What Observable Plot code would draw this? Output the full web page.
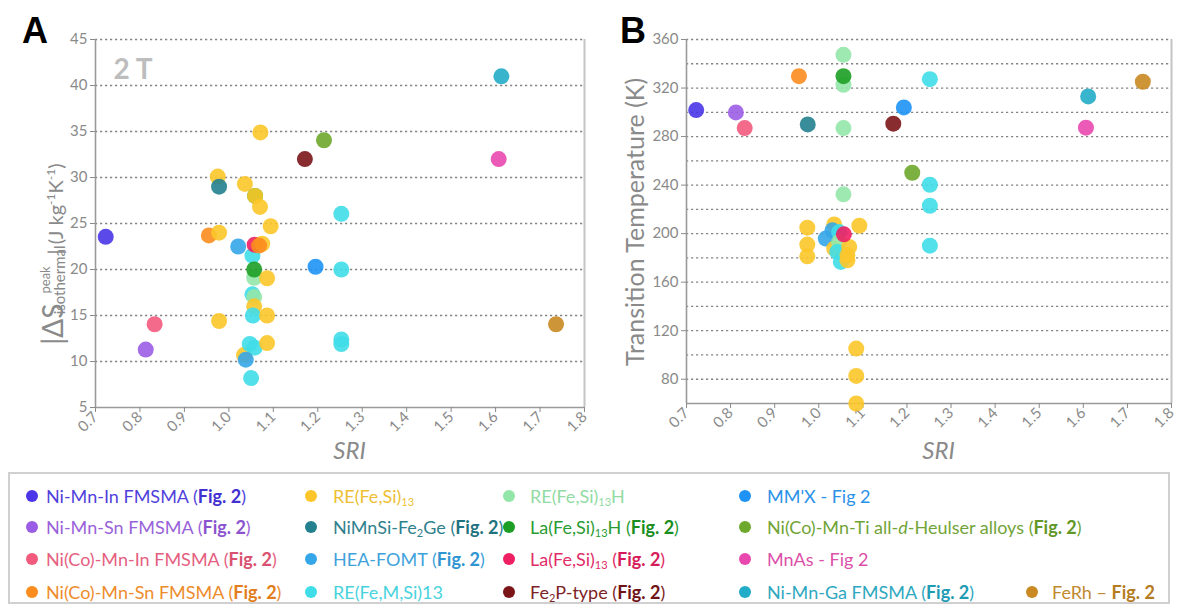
<!DOCTYPE html>
<html><head><meta charset="utf-8">
<script src="https://cdn.jsdelivr.net/npm/d3@7"></script>
<script src="https://cdn.jsdelivr.net/npm/@observablehq/plot@0.6"></script>
<style>
html,body{margin:0;padding:0;background:#fff;}
#root{position:relative;width:1177px;height:609px;overflow:hidden;font-family:Lato,"Open Sans",sans-serif;}
.panel{position:absolute;top:0;}
.letter{position:absolute;font-family:"Liberation Sans",Arial,sans-serif;font-weight:bold;font-size:36px;color:#000;line-height:1;}
#legend{position:absolute;left:8px;top:472px;width:1162px;height:132px;border:2px solid #d0d0d0;box-sizing:border-box;}
.item{position:absolute;font-size:18px;white-space:nowrap;line-height:20px;transform:translateY(-50%);}
.dot{position:absolute;width:12px;height:12px;border-radius:50%;transform:translate(-50%,-50%);}
sub{font-size:11px;line-height:0;vertical-align:-3px;}
</style></head>
<body><div id="root"></div>
<script>
// ---- series ----
const seriesKeys = ["NiMnIn","NiMnSn","NiCoMnIn","NiCoMnSn","REFeSi","NiMnSiFe2Ge","HEA","REFeMSi","REFeSiH","LaFeSiH","LaFeSi","Fe2P","MMX","NiCoMnTi","MnAs","NiMnGa","FeRh"];
const seriesColors = ["#4a35e8","#9b5de5","#f25a7e","#fb8c1e","#fcc62a","#23808e","#35a6e8","#3fdde8","#94e6a8","#1d9e25","#ee1f63","#7b1518","#1e93f5","#6ea82c","#e848ae","#22acc8","#c98a22"];
const legendNames = ["Ni-Mn-In FMSMA","Ni-Mn-Sn FMSMA","Ni(Co)-Mn-In FMSMA","Ni(Co)-Mn-Sn FMSMA","RE(Fe,Si)_13","NiMnSi-Fe_2Ge","HEA-FOMT","RE(Fe,M,Si)13","RE(Fe,Si)_13H","La(Fe,Si)_13H","La(Fe,Si)_13","Fe_2P-type","MM'X","Ni(Co)-Mn-Ti all-*d*-Heulser alloys","MnAs","Ni-Mn-Ga FMSMA","FeRh"];
const legendNotes = ["(Fig. 2)","(Fig. 2)","(Fig. 2)","(Fig. 2)","","(Fig. 2)","(Fig. 2)","","","(Fig. 2)","(Fig. 2)","(Fig. 2)","- Fig 2","(Fig. 2)","- Fig 2","(Fig. 2)","– Fig. 2"];

// ---- axes ----
const xTicks = [0.7,0.8,0.9,1.0,1.1,1.2,1.3,1.4,1.5,1.6,1.7,1.8];
const yTicksA = [5,10,15,20,25,30,35,40,45];
const yGridA = [10,15,20,25,30,35,40,45];
const yTicksB = [80,120,160,200,240,280,320,360];
const yGridB = [80,100,120,140,160,180,200,220,240,260,280,300,320,340,360];

// ---- panel A: |ΔS| peak isothermal vs SRI ----
const aSeries = ["NiMnIn","NiMnSn","NiCoMnIn","NiCoMnSn","REFeSi","REFeSi","NiMnSiFe2Ge","REFeSi","LaFeSiH","REFeSi","REFeSi","REFeSi","REFeSi",
 "HEA","REFeMSi","LaFeSi","REFeSi","NiCoMnSn","REFeSiH","LaFeSiH","REFeSi","REFeMSi","REFeSiH","REFeSi","REFeMSi","REFeSi","REFeSi",
 "REFeSi","REFeMSi","REFeMSi","REFeSi","HEA","REFeMSi","Fe2P","NiCoMnTi","NiMnGa","MnAs","REFeMSi","MMX","REFeMSi","FeRh","REFeMSi","REFeMSi"];
const aSRI = [0.723,0.813,0.833,0.955,0.978,0.975,0.978,1.036,1.059,1.059,1.070,1.071,1.094,
 1.021,1.053,1.058,1.075,1.068,1.057,1.057,1.086,1.053,1.057,1.057,1.054,1.086,0.978,
 1.034,1.047,1.058,1.086,1.038,1.050,1.171,1.214,1.613,1.607,1.253,1.195,1.253,1.736,1.253,1.253];
const aDS = [23.55,11.3,14.05,23.7,24.0,30.1,29.0,29.3,28.0,28.0,26.8,34.9,24.7,
 22.5,21.5,22.7,22.8,22.6,19.1,20.0,19.05,17.3,17.0,16.0,15.0,15.0,14.4,
 10.7,11.9,11.5,12.0,10.2,8.2,32.0,34.05,41.0,32.0,26.05,20.3,20.0,14.05,12.4,11.9];

// ---- panel B: transition temperature vs SRI ----
const bSeries = ["NiMnIn","NiMnSn","NiCoMnIn","NiCoMnSn","NiMnSiFe2Ge","REFeSiH","REFeSiH","LaFeSiH","REFeSiH","REFeSiH",
 "Fe2P","MMX","REFeMSi","NiCoMnTi","REFeMSi","REFeMSi","REFeMSi","NiMnGa","MnAs","FeRh",
 "REFeSi","REFeSi","REFeSi","REFeSi","REFeSi","REFeSi","REFeSi","REFeSi",
 "HEA","HEA","REFeMSi","REFeSi","REFeSiH","REFeMSi","REFeMSi","REFeSi","REFeSi","REFeSi","LaFeSi"];
const bSRI = [0.722,0.812,0.832,0.955,0.975,1.056,1.056,1.056,1.056,1.056,
 1.169,1.193,1.252,1.212,1.252,1.252,1.252,1.611,1.606,1.735,
 0.974,0.974,0.974,1.085,1.085,1.085,1.092,1.035,
 1.016,1.031,1.046,1.035,1.046,1.042,1.050,1.069,1.065,1.065,1.057];
const bT = [301.8,299.9,287.0,329.8,290.0,347.4,322.7,329.8,287.0,232.4,
 290.6,304.0,327.3,250.2,240.3,223.0,190.1,313.1,287.3,325.2,
 204.9,191.0,181.3,105.3,82.7,60.0,206.6,207.6,
 195.9,202.7,201.3,187.6,193.0,184.9,176.7,189.0,182.1,178.0,199.4];

const dataA = aSeries.map((s,i)=>({series:s, sri:aSRI[i], v:aDS[i]}));
const dataB = bSeries.map((s,i)=>({series:s, sri:bSRI[i], v:bT[i]}));

const GRAY = "#8a8a8a";
function panel({data, yDomain, yTicks, yGrid, width, marginLeft, marginRight, marginBottom, extra}) {
  return Plot.plot({
    width, height: 465, marginLeft, marginRight, marginTop: 39, marginBottom,
    style: {fontFamily: "Lato, sans-serif", color: GRAY, background: "transparent", overflow: "visible"},
    x: {domain: [0.7, 1.8]},
    y: {domain: yDomain},
    color: {domain: seriesKeys, range: seriesColors},
    marks: [
      Plot.ruleY(yGrid, {stroke: "#707070", strokeOpacity: 0.85, strokeWidth: 1.3, strokeDasharray: "2.2,2.8"}),
      Plot.ruleX([1.8], {stroke: "#c4c4c4", strokeWidth: 2}),
      Plot.ruleX([0.7], {stroke: "#9a9a9a", strokeWidth: 1.6}),
      Plot.ruleY([yDomain[0]], {stroke: "#9a9a9a", strokeWidth: 1.6}),
      Plot.axisY({ticks: yTicks, tickSize: 5, tickPadding: 3, fontSize: 15, label: null}),
      Plot.axisX({ticks: xTicks, tickSize: 5, tickPadding: 2, tickRotate: -45, fontSize: 15, tickFormat: d => d.toFixed(1), label: null}),
      Plot.dot(data, {x: "sri", y: "v", fill: "series", r: 8, fillOpacity: 0.9}),
      ...(extra || [])
    ]
  });
}

const root = document.getElementById("root");

const svgA = panel({data: dataA, yDomain: [5,45], yTicks: yTicksA, yGrid: yGridA, width: 590, marginLeft: 95, marginRight: 6, marginBottom: 58,
  extra: [Plot.text(["2 T"], {text: d => d, frameAnchor: "top-left", dx: 18, dy: 20, fontSize: 28, fontWeight: "bold", fill: "#bdbdbd", textAnchor: "start"})]});
const divA = document.createElement("div"); divA.className = "panel"; divA.style.left = "0px"; divA.appendChild(svgA); root.appendChild(divA);

const svgB = panel({data: dataB, yDomain: [60,360], yTicks: yTicksB, yGrid: yGridB, width: 587, marginLeft: 96, marginRight: 6, marginBottom: 62});
const divB = document.createElement("div"); divB.className = "panel"; divB.style.left = "590px"; divB.appendChild(svgB); root.appendChild(divB);

// x labels
[[svgA,95,584],[svgB,96,581]].forEach(([svg,l,r]) => {
  d3.select(svg).append("text").attr("x", (l+r)/2 + 10).attr("y", 459).attr("text-anchor","middle")
    .attr("font-size", 24).attr("font-style","italic").attr("fill", GRAY).attr("font-family","Lato, sans-serif").text("SRI");
});

// y label A (stacked peak / isothermal)
(function(){
  const g = d3.select(svgA).append("g").attr("fill", GRAY).attr("font-family","Lato, sans-serif");
  const t1 = g.append("text").attr("font-size", 28).text("|ΔS");
  const w1 = t1.node().getComputedTextLength();
  const p = g.append("text").attr("x", w1 + 3).attr("y", -13).attr("font-size", 13).text("peak");
  const iso = g.append("text").attr("x", w1 + 3).attr("y", 2).attr("font-size", 15).text("isothermal");
  const w2 = Math.max(p.node().getComputedTextLength(), iso.node().getComputedTextLength());
  const t3 = g.append("text").attr("x", w1 + w2 + 5).attr("font-size", 20);
  t3.append("tspan").text("| (J kg");
  t3.append("tspan").attr("font-size", 12).attr("dy", -8).text("-1");
  t3.append("tspan").attr("dy", 8).text("K");
  t3.append("tspan").attr("font-size", 12).attr("dy", -8).text("-1");
  t3.append("tspan").attr("dy", 8).text(")");
  const total = w1 + w2 + 5 + t3.node().getComputedTextLength();
  g.attr("transform", `translate(63,${221 + total/2}) rotate(-90)`);
})();

// y label B
d3.select(svgB).append("text").attr("transform", "translate(54,222) rotate(-90)").attr("text-anchor","middle")
  .attr("font-size", 25).attr("fill", GRAY).attr("font-family","Lato, sans-serif").text("Transition Temperature (K)");

// panel letters
[["A",22],["B",620]].forEach(([t,x]) => {
  const d = document.createElement("div"); d.className = "letter"; d.textContent = t;
  d.style.left = x + "px"; d.style.top = "13px"; root.appendChild(d);
});

// legend
const legend = document.createElement("div"); legend.id = "legend"; root.appendChild(legend);
const colDot = [30, 309, 507, 743, 1030];
const colText = [44, 331, 528, 765, 1050];
const rowY = [494, 525, 557, 590];
function rich(s){ return s.replace(/_(\d+)/g, "<sub>$1</sub>").replace(/\*(\w)\*/g, "<i>$1</i>"); }
legendNames.forEach((name, i) => {
  const col = Math.floor(i / 4);
  const row = i === 16 ? 3 : i % 4;
  const c = seriesColors[i];
  const textColor = d3.interpolateRgb(c, "#888")(0.12);
  const boldColor = d3.color(c).darker(0.3).formatHex();
  const dot = document.createElement("div"); dot.className = "dot";
  dot.style.background = c; dot.style.left = (colDot[col] - 8) + "px"; dot.style.top = (rowY[row] - 472) + "px";
  legend.appendChild(dot);
  const it = document.createElement("div"); it.className = "item";
  it.style.left = (colText[col] - 8) + "px"; it.style.top = (rowY[row] - 472) + "px"; it.style.color = textColor;
  const note = legendNotes[i] ? " " + legendNotes[i].replace("Fig. 2", `<b style="color:${boldColor}">Fig. 2</b>`) : "";
  it.innerHTML = rich(name) + note;
  legend.appendChild(it);
});
</script>
</body></html>
